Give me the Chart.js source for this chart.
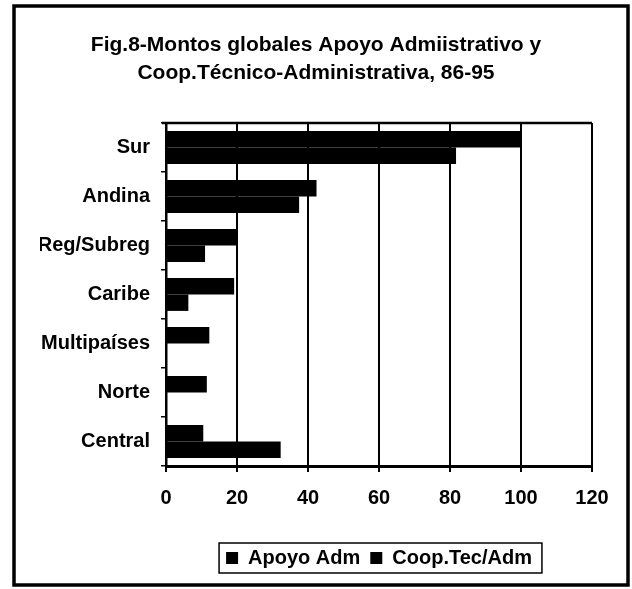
<!DOCTYPE html>
<html>
<head>
<meta charset="utf-8">
<script src="https://cdn.jsdelivr.net/npm/chart.js@4.4.1/dist/chart.umd.min.js"></script>
<style>
    html, body { margin: 0; padding: 0; background: #fff; }
    #wrap { width: 632px; height: 589px; }
</style>
</head>
<body>
<div id="wrap"><canvas id="myChart" width="632" height="589"></canvas></div>
<script>
// Values (montos, scale 0-120)
var regiones = ['Sur', 'Andina', 'Reg/Subreg', 'Caribe', 'Multipaíses', 'Norte', 'Central'];
var apoyoAdm = [100, 42.4, 20, 19.2, 12.2, 11.5, 10.5];
var coopTecAdm = [81.7, 37.5, 11, 6.3, 0, 0, 32.3];
var xMin = 0;
var xMax = 120;
var xStep = 20;
var titulo = ['Fig.8-Montos globales Apoyo Admiistrativo y', 'Coop.Técnico-Administrativa, 86-95'];
var serieNames = ['Apoyo Adm', 'Coop.Tec/Adm'];

document.addEventListener("DOMContentLoaded", function () {
    var boldFont = 'Liberation Sans, Arial, sans-serif';

    // Draws the outer frame, the top edge of the plot and the box round the legend
    var framePlugin = {
        id: 'frame',
        afterDraw: function (chart) {
            var ctx = chart.ctx;
            var area = chart.chartArea;
            ctx.save();
            ctx.strokeStyle = '#000';

            // outer border of the figure
            ctx.lineWidth = 3.5;
            ctx.strokeRect(14, 6, 614, 579);

            // top edge of plot area
            ctx.lineWidth = 2.5;
            ctx.beginPath();
            ctx.moveTo(area.left - 4, area.top);
            ctx.lineTo(area.right, area.top);
            ctx.stroke();

            // legend box
            var boxes = chart.legend.legendHitBoxes;
            if (boxes && boxes.length) {
                var l = boxes[0].left - 7;
                var r = boxes[boxes.length - 1].left + boxes[boxes.length - 1].width + 10;
                var t = boxes[0].top - 5;
                var b = boxes[0].top + boxes[0].height + 5;
                ctx.lineWidth = 1.5;
                ctx.strokeRect(l, t, r - l, b - t);
            }
            ctx.restore();
        }
    };

    var ctx = document.getElementById('myChart').getContext('2d');
    var myChart = new Chart(ctx, {
        type: 'bar',
        data: {
            labels: regiones,
            datasets: [
                {
                    label: serieNames[0],
                    data: apoyoAdm,
                    backgroundColor: '#000',
                    borderWidth: 0
                },
                {
                    label: serieNames[1],
                    data: coopTecAdm,
                    backgroundColor: '#000',
                    borderWidth: 0
                }
            ]
        },
        options: {
            indexAxis: 'y',
            responsive: false,
            animation: false,
            categoryPercentage: 0.67,
            barPercentage: 1.0,
            layout: {
                padding: { top: 0, left: 40, right: 40, bottom: 11 }
            },
            plugins: {
                title: {
                    display: true,
                    text: titulo,
                    color: '#000',
                    font: { family: boldFont, size: 21, weight: 'bold', lineHeight: '28px' },
                    padding: { top: 31, bottom: 36 }
                },
                legend: {
                    position: 'bottom',
                    fullSize: false,
                    labels: {
                        color: '#000',
                        boxWidth: 12,
                        boxHeight: 12,
                        padding: 10,
                        font: { family: boldFont, size: 20, weight: 'bold' }
                    }
                },
                tooltip: { enabled: false }
            },
            scales: {
                x: {
                    min: xMin,
                    max: xMax,
                    ticks: {
                        stepSize: xStep,
                        color: '#000',
                        padding: 14,
                        font: { family: boldFont, size: 20, weight: 'bold' }
                    },
                    grid: {
                        color: '#000',
                        lineWidth: 2,
                        tickLength: 6,
                        tickColor: '#000'
                    },
                    border: { color: '#000', width: 3 },
                    afterFit: function (scale) {
                        scale.height = 72;
                    }
                },
                y: {
                    ticks: {
                        color: '#000',
                        padding: 11,
                        font: { family: boldFont, size: 20, weight: 'bold' }
                    },
                    grid: {
                        drawOnChartArea: false,
                        drawTicks: true,
                        offset: true,
                        color: '#000',
                        lineWidth: 1.5,
                        tickLength: 5
                    },
                    border: { color: '#000', width: 2.5 },
                    afterFit: function (scale) {
                        scale.width = 126;
                    }
                }
            }
        },
        plugins: [framePlugin]
    });
});
</script>
</body>
</html>
